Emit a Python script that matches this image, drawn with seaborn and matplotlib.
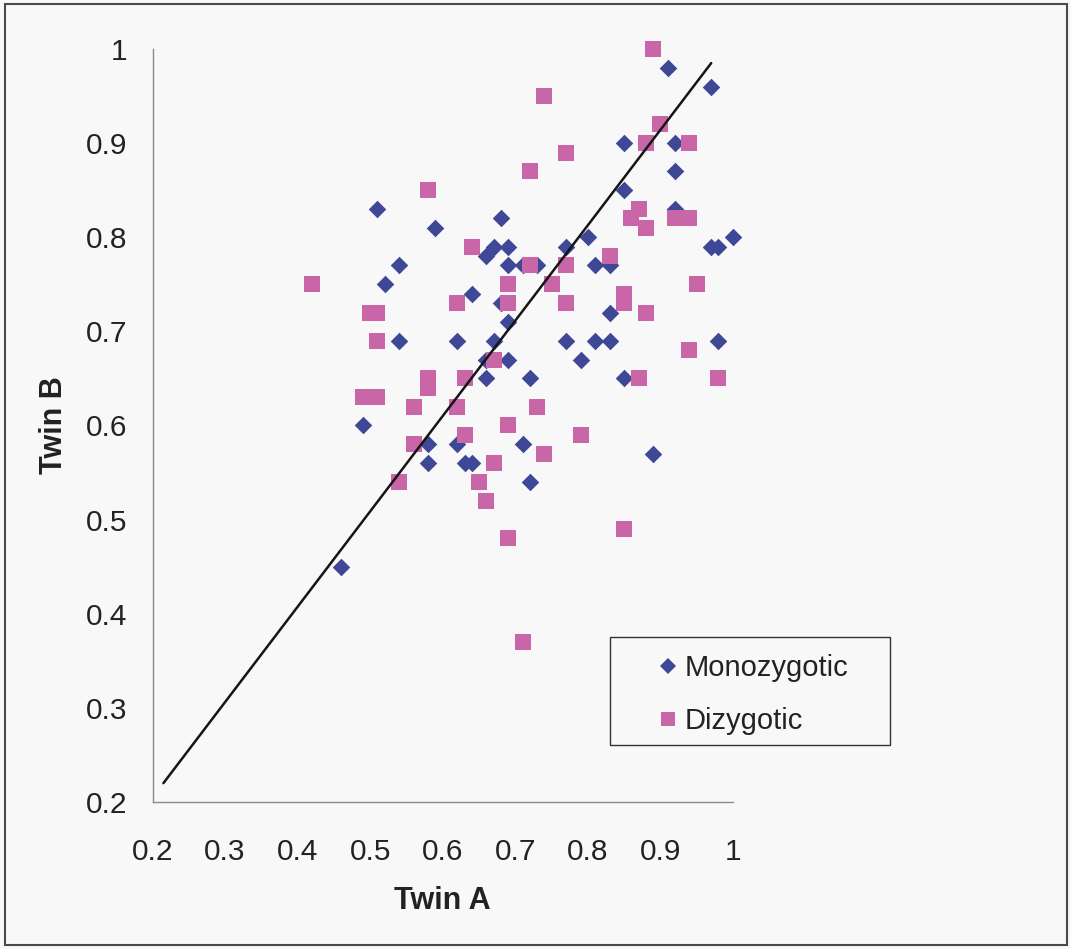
import pandas as pd
import matplotlib
matplotlib.use('Agg')
import matplotlib.pyplot as plt
import seaborn as sns
from matplotlib.patches import Rectangle
from matplotlib.lines import Line2D

# Monozygotic twin pairs (Twin A, Twin B)
mz_twin_a = [0.46, 0.49, 0.51, 0.52, 0.54, 0.54, 0.59, 0.58, 0.58, 0.62,
             0.62, 0.64, 0.63, 0.64, 0.66, 0.66, 0.67, 0.68, 0.69, 0.68,
             0.69, 0.69, 0.67, 0.66, 0.69, 0.71, 0.73, 0.77, 0.80, 0.81,
             0.83, 0.83, 0.77, 0.81, 0.83, 0.98, 0.79, 0.72, 0.85, 0.71,
             0.89, 0.72, 0.91, 0.97, 0.85, 0.92, 0.92, 0.85, 0.92, 0.97,
             0.98, 1.00]
mz_twin_b = [0.45, 0.60, 0.83, 0.75, 0.77, 0.69, 0.81, 0.58, 0.56, 0.69,
             0.58, 0.74, 0.56, 0.56, 0.65, 0.78, 0.79, 0.82, 0.79, 0.73,
             0.71, 0.67, 0.69, 0.67, 0.77, 0.77, 0.77, 0.79, 0.80, 0.77,
             0.77, 0.72, 0.69, 0.69, 0.69, 0.69, 0.67, 0.65, 0.65, 0.58,
             0.57, 0.54, 0.98, 0.96, 0.90, 0.90, 0.87, 0.85, 0.83, 0.79,
             0.79, 0.80]

# Dizygotic twin pairs (Twin A, Twin B)
dz_twin_a = [0.89, 0.74, 0.90, 0.88, 0.94, 0.77, 0.72, 0.58, 0.87, 0.86,
             0.88, 0.92, 0.94, 0.64, 0.83, 0.72, 0.77, 0.42, 0.69, 0.75,
             0.95, 0.62, 0.69, 0.77, 0.85, 0.85, 0.50, 0.51, 0.88, 0.51,
             0.94, 0.67, 0.58, 0.58, 0.63, 0.87, 0.98, 0.49, 0.51, 0.56,
             0.62, 0.73, 0.69, 0.63, 0.79, 0.56, 0.74, 0.67, 0.54, 0.65,
             0.66, 0.85, 0.69, 0.71]
dz_twin_b = [1.00, 0.95, 0.92, 0.90, 0.90, 0.89, 0.87, 0.85, 0.83, 0.82,
             0.81, 0.82, 0.82, 0.79, 0.78, 0.77, 0.77, 0.75, 0.75, 0.75,
             0.75, 0.73, 0.73, 0.73, 0.74, 0.73, 0.72, 0.72, 0.72, 0.69,
             0.68, 0.67, 0.65, 0.64, 0.65, 0.65, 0.65, 0.63, 0.63, 0.62,
             0.62, 0.62, 0.60, 0.59, 0.59, 0.58, 0.57, 0.56, 0.54, 0.54,
             0.52, 0.49, 0.48, 0.37]

# trend line end points
line_x = [0.215, 0.97]
line_y = [0.22, 0.985]

groups = ['Monozygotic', 'Dizygotic']
colors = {'Monozygotic': '#3f4896', 'Dizygotic': '#c866a8'}
ticks = [0.2, 0.3, 0.4, 0.5, 0.6, 0.7, 0.8, 0.9, 1.0]
tick_labels = ['0.2', '0.3', '0.4', '0.5', '0.6', '0.7', '0.8', '0.9', '1']

df = pd.DataFrame({
    'twin_a': mz_twin_a + dz_twin_a,
    'twin_b': mz_twin_b + dz_twin_b,
    'zygosity': [groups[0]] * len(mz_twin_a) + [groups[1]] * len(dz_twin_a),
})

sns.set_style('white')
plt.rcParams['font.family'] = ['Liberation Sans', 'DejaVu Sans']

fig = plt.figure(figsize=(10.71, 9.49), dpi=100, facecolor='#f8f8f8')
ax = fig.add_axes([0.1424, 0.1549, 0.5420, 0.7935])
ax.set_facecolor('none')

sns.scatterplot(data=df[df['zygosity'] == 'Monozygotic'], x='twin_a', y='twin_b',
                color=colors['Monozygotic'], marker='D', s=80, linewidth=0,
                clip_on=False, zorder=3, ax=ax)
sns.scatterplot(data=df[df['zygosity'] == 'Dizygotic'], x='twin_a', y='twin_b',
                color=colors['Dizygotic'], marker='s', s=125, linewidth=0,
                clip_on=False, zorder=4, ax=ax)
sns.lineplot(x=line_x, y=line_y, color='#151515', linewidth=1.8, zorder=5, ax=ax)

ax.set_xlim(0.2, 1.0)
ax.set_ylim(0.2, 1.0)
ax.set_xticks(ticks)
ax.set_xticklabels(tick_labels)
ax.set_yticks(ticks)
ax.set_yticklabels(tick_labels)

for side in ['top', 'right']:
    ax.spines[side].set_visible(False)
for side in ['left', 'bottom']:
    ax.spines[side].set_color('#8a8a8a')
    ax.spines[side].set_linewidth(1.0)

ax.tick_params(axis='both', direction='out', length=7, width=1.0, color='#8a8a8a',
               labelsize=21.5, labelcolor='#222222')
ax.tick_params(axis='x', pad=19)
ax.tick_params(axis='y', pad=11)

ax.set_xlabel('Twin A', fontsize=22, fontweight='bold', color='#222222', labelpad=14)
ax.set_ylabel('Twin B', fontsize=22, fontweight='bold', color='#222222', labelpad=12)

# legend box like the spreadsheet one
fig.patches.append(Rectangle((610 / 1071, 1 - 745 / 949), 280 / 1071, 108 / 949,
                             transform=fig.transFigure, facecolor='none',
                             edgecolor='#333333', linewidth=1.0))
handles = [
    Line2D([], [], linestyle='none', marker='D', markersize=8.2,
           markerfacecolor=colors['Monozygotic'], markeredgewidth=0),
    Line2D([], [], linestyle='none', marker='s', markersize=10.5,
           markerfacecolor=colors['Dizygotic'], markeredgewidth=0),
]
fig.legend(handles, groups, loc='upper left', bbox_to_anchor=(659 / 1071, 1 - 654 / 949),
           frameon=False, fontsize=21, handlelength=0.6, handletextpad=0.28,
           labelspacing=0.85, borderpad=0, borderaxespad=0, labelcolor='#222222')

# outer border of the chart
fig.patches.append(Rectangle((5 / 1071, 4 / 949), 1062 / 1071, 941 / 949,
                             transform=fig.transFigure, facecolor='none',
                             edgecolor='#4a4a4a', linewidth=1.5))

fig.savefig('out.png', dpi=100, facecolor=fig.get_facecolor())
